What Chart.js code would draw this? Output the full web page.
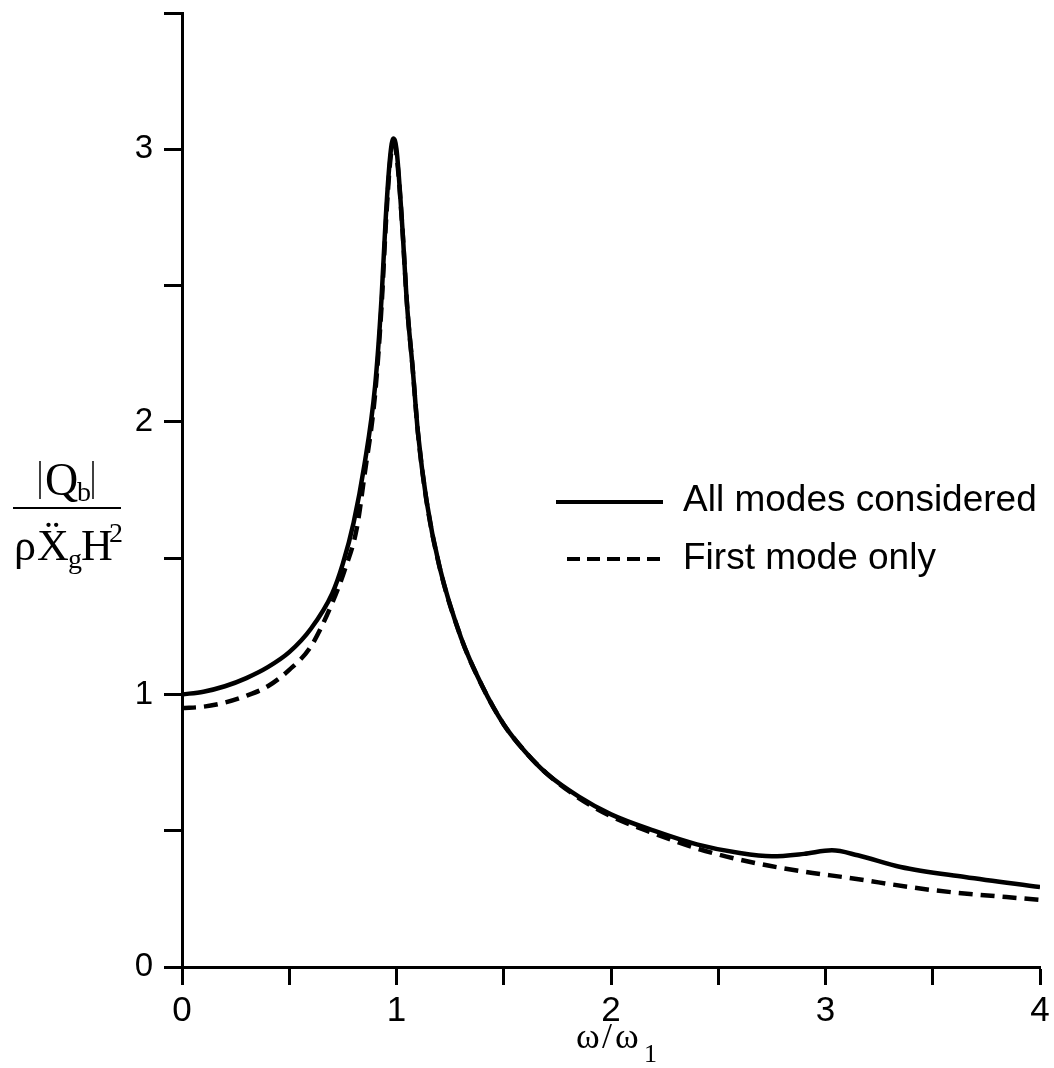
<!DOCTYPE html>
<html>
<head>
<meta charset="utf-8">
<script src="https://cdn.jsdelivr.net/npm/chart.js@4.4.0/dist/chart.umd.min.js"></script>
<style>
  body { margin: 0; background: #fff; }
  #wrap { width: 1054px; height: 1068px; }
</style>
</head>
<body>
<div id="wrap"><canvas id="myChart"></canvas></div>
<script>
// frequency ratio w/w1 and base shear, all modes
const xAll = [0, 0.1, 0.2, 0.3, 0.4, 0.5, 0.6, 0.7, 0.75, 0.8, 0.85, 0.9, 0.93, 0.95, 0.97, 0.985,
  1.0, 1.025, 1.05, 1.075, 1.1, 1.14, 1.2, 1.3, 1.4, 1.5, 1.6, 1.7, 1.85, 2.0, 2.2, 2.4, 2.6, 2.75, 2.9,
  3.03, 3.15, 3.35, 3.65, 4.0];
const yAll = [1.0, 1.01, 1.03, 1.06, 1.1, 1.155, 1.24, 1.37, 1.48, 1.63, 1.84, 2.13, 2.45, 2.75, 2.97, 3.04,
  3.0, 2.74, 2.42, 2.2, 1.96, 1.71, 1.47, 1.21, 1.03, 0.89, 0.79, 0.71, 0.625, 0.56, 0.5, 0.45, 0.418, 0.406, 0.415,
  0.428, 0.41, 0.367, 0.33, 0.293];

// first mode only
const xFirst = [0, 0.1, 0.2, 0.3, 0.4, 0.5, 0.6, 0.7, 0.76, 0.815, 0.85, 0.9, 0.93, 0.95, 0.97, 0.985,
  1.0, 1.025, 1.05, 1.075, 1.1, 1.14, 1.2, 1.3, 1.4, 1.5, 1.6, 1.7, 1.85, 2.0, 2.2, 2.4, 2.65, 2.9, 3.1, 3.5, 4.0];
const yFirst = [0.95, 0.955, 0.97, 0.995, 1.03, 1.09, 1.175, 1.335, 1.46, 1.61, 1.8, 2.1, 2.42, 2.72, 2.95, 3.02,
  2.98, 2.74, 2.42, 2.2, 1.96, 1.71, 1.47, 1.21, 1.03, 0.89, 0.79, 0.71, 0.62, 0.553, 0.49, 0.435, 0.385, 0.35, 0.328, 0.282, 0.246];

const seriesNames = ["All modes considered", "First mode only"];
const tickLabels = ["0", "1", "2", "3", "4"];

function toPoints(xs, ys) {
  return xs.map((x, i) => ({ x: x, y: ys[i] }));
}

// axis titles and legend drawn on the canvas
const extras = {
  id: "extras",
  afterDraw(chart) {
    const ctx = chart.ctx;
    ctx.save();
    ctx.fillStyle = "#000";
    ctx.strokeStyle = "#000";
    ctx.textBaseline = "alphabetic";

    // y title: |Qb| over rho Xg H^2
    ctx.lineWidth = 1.5;
    ctx.beginPath(); ctx.moveTo(40, 461); ctx.lineTo(40, 499); ctx.stroke();
    ctx.beginPath(); ctx.moveTo(93, 461); ctx.lineTo(93, 499); ctx.stroke();
    ctx.font = "46px 'Liberation Serif'";
    ctx.fillText("Q", 45, 495);
    ctx.font = "28px 'Liberation Serif'";
    ctx.fillText("b", 77, 501);
    ctx.lineWidth = 2;
    ctx.beginPath(); ctx.moveTo(13, 508); ctx.lineTo(121, 508); ctx.stroke();
    ctx.font = "44px 'Liberation Serif'";
    ctx.fillText("\u03c1", 14, 560);
    ctx.fillText("X", 37, 560);
    ctx.fillText("\u00a8", 45, 551);
    ctx.font = "28px 'Liberation Serif'";
    ctx.fillText("g", 68, 568);
    ctx.font = "44px 'Liberation Serif'";
    ctx.fillText("H", 81, 560);
    ctx.font = "28px 'Liberation Serif'";
    ctx.fillText("2", 109, 542);

    // x title: w / w1
    ctx.font = "36px 'Liberation Serif'";
    ctx.fillText("\u03c9", 576, 1048);
    ctx.fillText("/", 602, 1048);
    ctx.fillText("\u03c9", 615, 1048);
    ctx.font = "26px 'Liberation Serif'";
    ctx.fillText("1", 644, 1062);

    // legend
    ctx.lineWidth = 4;
    ctx.beginPath(); ctx.moveTo(556, 502); ctx.lineTo(663, 502); ctx.stroke();
    ctx.setLineDash([13, 7]);
    ctx.beginPath(); ctx.moveTo(567, 559); ctx.lineTo(663, 559); ctx.stroke();
    ctx.setLineDash([]);
    ctx.font = "37px 'Liberation Sans'";
    ctx.fillText(seriesNames[0], 683, 511);
    ctx.fillText(seriesNames[1], 683, 569);
    ctx.restore();
  }
};

const ctx = document.getElementById("myChart").getContext("2d");
new Chart(ctx, {
  type: "line",
  data: {
    datasets: [
      {
        label: seriesNames[0],
        data: toPoints(xAll, yAll),
        borderColor: "#000",
        borderWidth: 4.5,
        pointRadius: 0,
        cubicInterpolationMode: "monotone",
        fill: false,
      },
      {
        label: seriesNames[1],
        data: toPoints(xFirst, yFirst),
        borderColor: "#000",
        borderWidth: 4.5,
        borderDash: [14, 8],
        pointRadius: 0,
        cubicInterpolationMode: "monotone",
        fill: false,
      },
    ],
  },
  options: {
    responsive: true,
    maintainAspectRatio: false,
    animation: false,
    layout: { padding: { top: 13, right: 14, left: 0, bottom: 0 } },
    plugins: {
      legend: { display: false },
      tooltip: { enabled: false },
    },
    scales: {
      x: {
        type: "linear",
        min: 0,
        max: 4,
        afterFit: (scale) => {
          scale.height = 101;
          scale.paddingLeft = 0;
          scale.paddingRight = 0;
        },
        border: { color: "#000", width: 3 },
        grid: { drawOnChartArea: false, tickLength: 18, tickWidth: 3, tickColor: "#000" },
        ticks: {
          stepSize: 0.5,
          padding: 5,
          color: "#000",
          maxRotation: 0,
          font: { family: "Liberation Sans", size: 35 },
          callback: (v) => (Number.isInteger(v) ? tickLabels[v] : ""),
        },
      },
      y: {
        min: 0,
        max: 3.5,
        afterFit: (scale) => {
          scale.width = 182;
          scale.paddingTop = 0;
          scale.paddingBottom = 0;
        },
        border: { color: "#000", width: 3 },
        grid: { drawOnChartArea: false, tickLength: 18, tickWidth: 3, tickColor: "#000" },
        ticks: {
          stepSize: 0.5,
          padding: 11,
          color: "#000",
          font: { family: "Liberation Sans", size: 33 },
          callback: (v) => (Number.isInteger(v) ? String(v) : ""),
        },
      },
    },
  },
  plugins: [extras],
});
</script>
</body>
</html>
